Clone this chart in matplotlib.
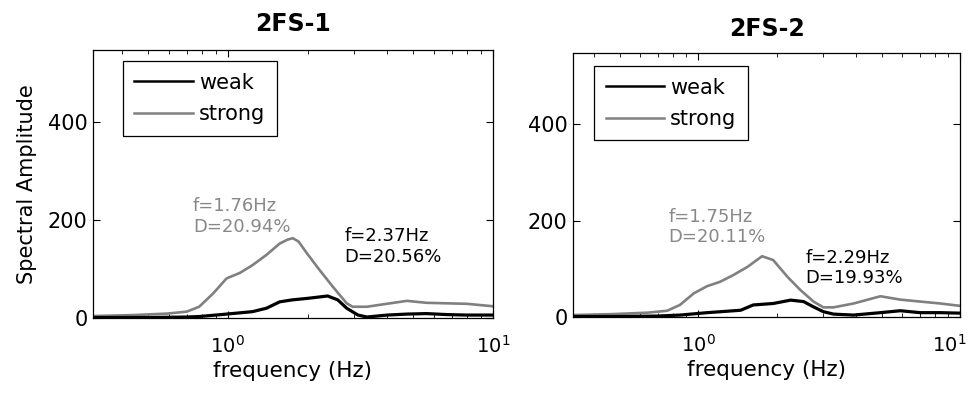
import numpy as np
import matplotlib
matplotlib.use("Agg")
from matplotlib import pyplot as plt
from matplotlib import transforms
from matplotlib.ticker import LogLocator, NullFormatter

# values (frequency in Hz, spectral amplitude)
f1_strong = [0.31, 0.44, 0.59, 0.70, 0.78, 0.88, 0.99, 1.11, 1.24, 1.40, 1.57, 1.68, 1.76,
             1.85, 1.99, 2.22, 2.49, 2.81, 2.96, 3.35, 3.98, 4.74, 5.63, 6.70, 7.98, 10.0]
a1_strong = [4, 6, 9, 13, 23, 50, 81, 92, 108, 129, 152, 160, 163,
             156, 132, 98, 64, 30, 23, 23, 29, 35, 31, 30, 29, 24]
f1_weak = [0.31, 0.50, 0.70, 0.78, 0.99, 1.24, 1.40, 1.57, 1.75, 1.99, 2.22, 2.38, 2.60,
           2.81, 3.10, 3.35, 4.00, 4.74, 5.63, 6.70, 7.98, 10.0]
a1_weak = [1, 1, 2, 3, 8, 13, 20, 33, 37, 40, 43, 45, 37,
           20, 6, 2, 6, 8, 9, 7, 6, 6]

f2_strong = [0.33, 0.47, 0.64, 0.76, 0.85, 0.96, 1.08, 1.21, 1.36, 1.54, 1.75, 1.93, 2.19,
             2.45, 2.75, 3.00, 3.28, 3.91, 4.95, 5.90, 7.03, 8.39, 10.0]
a2_strong = [4, 6, 9, 13, 25, 49, 64, 73, 87, 104, 126, 118, 83,
             56, 32, 20, 20, 28, 43, 36, 32, 28, 23]
f2_weak = [0.33, 0.50, 0.70, 0.85, 1.08, 1.45, 1.62, 1.93, 2.25, 2.52, 2.75, 3.00, 3.28,
           3.91, 4.95, 5.90, 7.03, 8.39, 10.0]
a2_weak = [1, 1, 2, 4, 9, 14, 25, 28, 35, 32, 21, 11, 6,
           4, 9, 13, 9, 9, 8]

titles = ["2FS-1", "2FS-2"]
labels_strong = ["f=1.76Hz\nD=20.94%", "f=1.75Hz\nD=20.11%"]
labels_weak = ["f=2.37Hz\nD=20.56%", "f=2.29Hz\nD=19.93%"]
pos_strong = [(0.738, 247), (0.768, 227)]
pos_weak = [(2.76, 186), (2.56, 142)]
xlims = [(0.31, 10), (0.333, 10)]

plt.rcParams['font.family'] = 'DejaVu Sans'
plt.rcParams['mathtext.default'] = 'regular'

fig = plt.figure(figsize=(9.75, 3.98), dpi=100)
ax1 = fig.add_axes([0.0954, 0.201, 0.410, 0.673])
ax2 = fig.add_axes([0.588, 0.2035, 0.397, 0.663])

data = [(f1_weak, a1_weak, f1_strong, a1_strong), (f2_weak, a2_weak, f2_strong, a2_strong)]
legpos = [(0.075, 0.959), (0.054, 0.951)]
title_pad = [14, 12]
gray = '#808080'

for i, ax in enumerate([ax1, ax2]):
    fw, aw, fs, as_ = data[i]
    ax.plot(fs, as_, color=gray, lw=1.9, label='strong', zorder=2)
    ax.plot(fw, aw, color='black', lw=2.3, label='weak', zorder=3)
    ax.set_xscale('log')
    ax.set_xlim(*xlims[i])
    ax.set_ylim(0, 547)
    ax.set_yticks([0, 200, 400])
    ax.xaxis.set_minor_locator(LogLocator(base=10, subs=np.arange(2, 10)))
    ax.xaxis.set_minor_formatter(NullFormatter())
    ax.tick_params(which='both', direction='in', top=True, right=True, labelsize=15)
    ax.tick_params(axis='x', which='major', length=5, pad=12, labelsize=14)
    ax.tick_params(axis='x', which='minor', length=3)
    ax.tick_params(axis='y', length=5, pad=4)
    for s in ax.spines.values():
        s.set_linewidth(0.9)
    ax.set_title(titles[i], fontsize=17, fontweight='bold', pad=title_pad[i])
    ax.set_xlabel('frequency (Hz)', fontsize=15.5, labelpad=3)
    ax.text(pos_strong[i][0], pos_strong[i][1], labels_strong[i], color='#888888',
            fontsize=13, va='top', ha='left')
    ax.text(pos_weak[i][0], pos_weak[i][1], labels_weak[i], color='black',
            fontsize=13, va='top', ha='left')
    h, l = ax.get_legend_handles_labels()
    leg = ax.legend(h[::-1], l[::-1], loc='upper left', bbox_to_anchor=legpos[i],
                    fontsize=15, handlelength=2.8, handletextpad=0.3, labelspacing=0.55,
                    borderpad=0.55, borderaxespad=0, fancybox=False, framealpha=1,
                    edgecolor='black')
    leg.get_frame().set_linewidth(0.9)
    for ln in leg.get_lines():
        ln.set_linewidth(1.8)

ax1.set_ylabel('Spectral Amplitude', fontsize=15, labelpad=8)

# nudge the last tick label of the right panel so it stays inside the figure
fig.canvas.draw()
shift = transforms.ScaledTranslation(-8 / 72, 0, fig.dpi_scale_trans)
for t in ax2.get_xticklabels():
    if t.get_position()[0] == 10:
        t.set_transform(t.get_transform() + shift)

fig.savefig('out.png', dpi=100)
